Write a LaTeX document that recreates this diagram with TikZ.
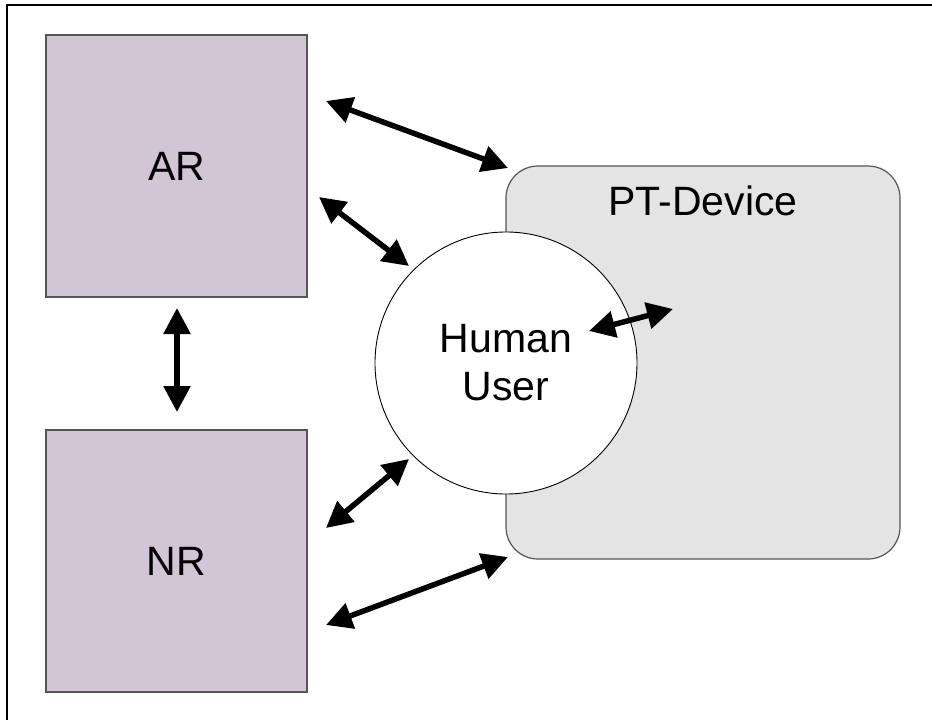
\documentclass[tikz,border=0pt]{standalone}
\usepackage{fontspec}
\setmainfont{Liberation Sans}
\usetikzlibrary{arrows.meta}
\definecolor{lilac}{RGB}{209,197,214}
\definecolor{devgray}{RGB}{228,228,228}
\definecolor{edgegray}{RGB}{85,85,85}
\begin{document}
\begin{tikzpicture}[x=1pt,y=-1pt,
  bigtext/.style={font=\fontsize{41}{48}\selectfont},
  rolebox/.style={draw=edgegray, line width=1.5pt, fill=lilac,
    minimum width=261pt, minimum height=262pt, inner sep=0pt, bigtext},
  devicebox/.style={draw=edgegray, line width=1.2pt, fill=devgray,
    rounded corners=32pt, minimum width=394pt, minimum height=393pt, inner sep=0pt},
  usercircle/.style={circle, draw=black, line width=0.9pt, fill=white,
    minimum size=262pt, inner sep=0pt},
  link/.style={line width=5.5pt, {Triangle[length=26pt,width=26pt]}-{Triangle[length=26pt,width=26pt]}}
]
\useasboundingbox (0,0) rectangle (932,720);
% frame edges
\draw[line width=2.5pt] (7,720) -- (7,5) -- (932,5);

% blocks
\node[rolebox] (ar) at (176.5,166) {AR};
\node[rolebox] (nr) at (176.5,561) {NR};
\node[devicebox] (pt) at (703,362.5) {};
\node[bigtext, anchor=base] (pttitle) at (703,215) {PT-Device};
\node[usercircle] (user) at (506,363) {};
\node[bigtext, anchor=base, inner sep=0pt] (usertext) at (506,352)
  {\setlength{\tabcolsep}{0pt}\begin{tabular}[t]{c}Human\\User\end{tabular}};

% connector end points
\coordinate (arpt1) at (326,101);
\coordinate (arpt2) at (508,168);
\coordinate (arus1) at (319,197);
\coordinate (arus2) at (409,266);
\coordinate (uspt1) at (589,331);
\coordinate (uspt2) at (673,309);
\coordinate (nrus1) at (326,528);
\coordinate (nrus2) at (409,459);
\coordinate (nrpt1) at (326,625);
\coordinate (nrpt2) at (508,557);
\coordinate (arnr1) at (177,308);
\coordinate (arnr2) at (177,412);

% connectors
\draw[link] (arpt1) -- (arpt2);
\draw[link] (arus1) -- (arus2);
\draw[link] (uspt1) -- (uspt2);
\draw[link] (nrus1) -- (nrus2);
\draw[link] (nrpt1) -- (nrpt2);
\draw[link] (arnr1) -- (arnr2);
\end{tikzpicture}
\end{document}
